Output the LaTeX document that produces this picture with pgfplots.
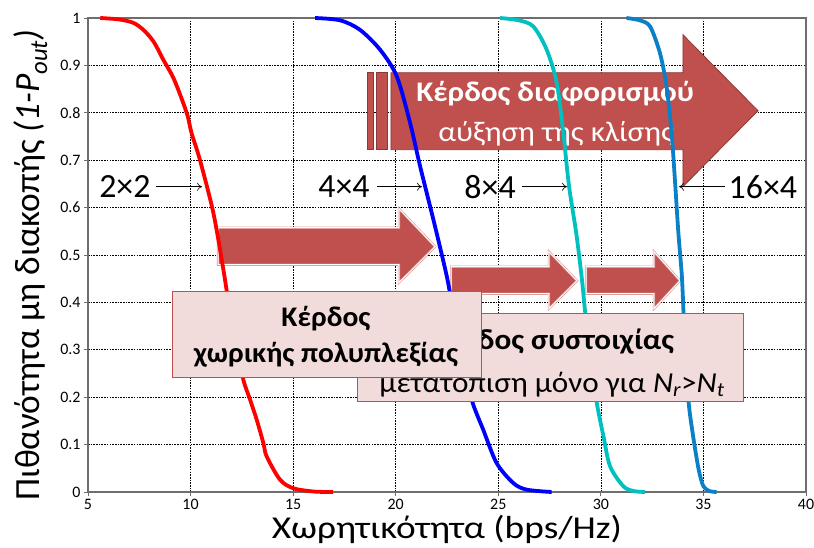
\documentclass[border=0pt]{standalone}
\usepackage{pgfplots}
\pgfplotsset{compat=1.18}
\usetikzlibrary{arrows.meta}
\usepackage{fontspec}
\setmainfont{Carlito}

\definecolor{arrowred}{RGB}{192,80,77}
\definecolor{arrowedge}{RGB}{140,56,54}
\definecolor{arrowrim}{RGB}{217,150,148}
\definecolor{boxfill}{RGB}{242,220,219}
\definecolor{cyanline}{RGB}{0,192,192}
\definecolor{skyline}{RGB}{10,128,200}
\definecolor{axisgray}{RGB}{110,110,110}

\begin{document}
\begin{tikzpicture}
\useasboundingbox (-88bp,-56bp) rectangle (726bp,492bp);
\begin{axis}[
  scale only axis, width=718bp, height=474bp,
  at={(0,0)}, anchor=south west,
  xmin=5, xmax=40, ymin=0, ymax=1,
  xtick={5,10,15,20,25,30,35,40},
  ytick={0,0.1,0.2,0.3,0.4,0.5,0.6,0.7,0.8,0.9,1},
  /pgf/number format/assume math mode=true,
  tick label style={font=\fontsize{16}{18}\selectfont},
  tick pos=left, tick align=outside, major tick length=4bp,
  tick style={axisgray, line width=0.8bp},
  axis line style={axisgray, line width=1.3bp},
  grid=major,
  major grid style={black, line width=0.6bp, dash pattern=on 1.6bp off 1.1bp},
  clip=false,
  xlabel={Χωρητικότητα (bps/Hz)},
  ylabel={Πιθανότητα μη διακοπής {\itshape (1-P\textsubscript{out})}},
  xlabel style={font=\fontsize{32}{36}\selectfont, xscale=1.17,
    at={([yshift=-46bp]axis description cs:0.5,0)}, anchor=base},
  ylabel style={font=\fontsize{35.5}{38}\selectfont,
    at={([xshift=-48bp, yshift=-10bp]axis description cs:0,0.5)}, anchor=base},
]

% diversity-gain arrow (striped), drawn beneath the curves
\draw[arrowedge, fill=arrowred, line width=0.8bp] (18.60,0.7222) rectangle (18.89,0.8846);
\draw[arrowedge, fill=arrowred, line width=0.8bp] (19.04,0.7222) rectangle (19.58,0.8846);
\draw[arrowedge, fill=arrowred, line width=0.8bp]
  (19.77,0.8846) -- (34.00,0.8846) -- (34.00,0.9648) -- (37.66,0.8044)
  -- (34.00,0.6441) -- (34.00,0.7222) -- (19.77,0.7222) -- cycle;
\node[anchor=base, text=white, xscale=1.1, font=\bfseries\fontsize{28.5}{30}\selectfont]
  at (27.77,0.8234) {Κέρδος διαφορισμού};
\node[anchor=base, text=white, xscale=1.1, font=\fontsize{28.5}{30}\selectfont]
  at (27.82,0.7390) {αύξηση της κλίσης};

% multiplexing and array gain arrows
\draw[arrowrim, double=white, double distance=1bp, line width=0.6bp, fill=arrowred]
  (11.34,0.5576) -- (20.16,0.5576) -- (20.16,0.5977) -- (21.92,0.5175)
  -- (20.16,0.4416) -- (20.16,0.4795) -- (11.34,0.4795) -- cycle;
\draw[arrowrim, double=white, double distance=1bp, line width=0.6bp, fill=arrowred]
  (22.70,0.4753) -- (27.47,0.4753) -- (27.47,0.5070) -- (28.84,0.4458)
  -- (27.47,0.3867) -- (27.47,0.4183) -- (22.70,0.4183) -- cycle;
\draw[arrowrim, double=white, double distance=1bp, line width=0.6bp, fill=arrowred]
  (29.28,0.4753) -- (32.59,0.4753) -- (32.59,0.5070) -- (33.86,0.4458)
  -- (32.59,0.3867) -- (32.59,0.4183) -- (29.28,0.4183) -- cycle;

% 2x2
\addplot[red, line width=3.8bp, smooth, tension=0.5] coordinates {
 (5.6,1.0) (6.5,0.997) (7.2,0.99) (7.7,0.975) (8.2,0.95) (8.67,0.912)
 (9.2,0.87) (9.81,0.80) (10.05,0.757) (10.46,0.70) (11.11,0.589)
 (11.6,0.469) (11.92,0.381) (12.25,0.31) (12.57,0.237) (12.9,0.195)
 (13.22,0.153) (13.55,0.103) (13.71,0.075) (14.36,0.026)
 (15.0,0.008) (16.0,0.001) (16.95,0.0)};
% 4x4
\addplot[blue, line width=3.8bp, smooth, tension=0.5] coordinates {
 (16.07,1.0) (17.3,0.995) (18.26,0.975) (19.24,0.933) (20.05,0.877)
 (20.7,0.779) (21.19,0.687) (21.84,0.574) (22.49,0.455) (22.8,0.381)
 (23.2,0.29) (23.7,0.195) (24.27,0.131) (24.92,0.061) (25.73,0.019)
 (26.38,0.005) (27.6,0.0)};
% 8x4
\addplot[cyanline, line width=3.8bp, smooth, tension=0.5] coordinates {
 (25.09,1.0) (26.0,0.995) (26.71,0.982) (27.36,0.933) (27.85,0.863)
 (28.17,0.757) (28.45,0.645) (28.8,0.546) (29.06,0.455) (29.24,0.378)
 (29.5,0.28) (29.8,0.188) (30.13,0.117) (30.45,0.054) (31.1,0.012)
 (31.6,0.002) (32.16,0.0)};
% 16x4
\addplot[skyline, line width=3.8bp, smooth, tension=0.5] coordinates {
 (31.25,1.0) (31.9,0.995) (32.4,0.982) (32.88,0.926) (33.2,0.856)
 (33.45,0.757) (33.62,0.652) (33.78,0.546) (33.95,0.455) (34.03,0.378)
 (34.15,0.28) (34.28,0.188) (34.5,0.117) (34.77,0.047) (35.0,0.012)
 (35.3,0.002) (35.64,0.0)};

% text boxes over the curves
\draw[arrowred, fill=boxfill, line width=1bp] (18.16,0.1905) rectangle (36.93,0.3762);
\node[anchor=base, xscale=1.08, font=\bfseries\fontsize{29}{30}\selectfont]
  at (27.62,0.3002) {Κέρδος συστοιχίας};
\node[anchor=base, xscale=1.08, font=\fontsize{29}{30}\selectfont]
  at (27.62,0.2095) {μετατόπιση μόνο για \textit{N\textsubscript{r}}>\textit{N\textsubscript{t}}};
\draw[arrowred, fill=boxfill, line width=1bp] (9.14,0.2411) rectangle (24.16,0.4226);
\node[anchor=base, xscale=1.04, font=\bfseries\fontsize{28.5}{30}\selectfont]
  at (16.60,0.3487) {Κέρδος};
\node[anchor=base, xscale=1.04, font=\bfseries\fontsize{28.5}{30}\selectfont]
  at (16.60,0.2728) {χωρικής πολυπλεξίας};

% configuration labels
\node[font=\fontsize{34}{36}\selectfont] at (6.80,0.6441) {2×2};
\draw[-{To[length=5bp,width=8bp]}, line width=0.6bp] (8.31,0.6441) -- (10.56,0.6441);
\node[font=\fontsize{34}{36}\selectfont] at (17.48,0.6441) {4×4};
\draw[-{To[length=5bp,width=8bp]}, line width=0.6bp] (19.09,0.6441) -- (21.28,0.6441);
\node[font=\fontsize{34}{36}\selectfont] at (24.60,0.6441) {8×4};
\draw[-{To[length=5bp,width=8bp]}, line width=0.6bp] (26.16,0.6441) -- (28.35,0.6441);
\node[font=\fontsize{34}{36}\selectfont] at (37.90,0.6441) {16×4};
\draw[-{To[length=5bp,width=8bp]}, line width=0.6bp] (36.05,0.6441) -- (33.81,0.6441);

\end{axis}
\end{tikzpicture}
\end{document}
